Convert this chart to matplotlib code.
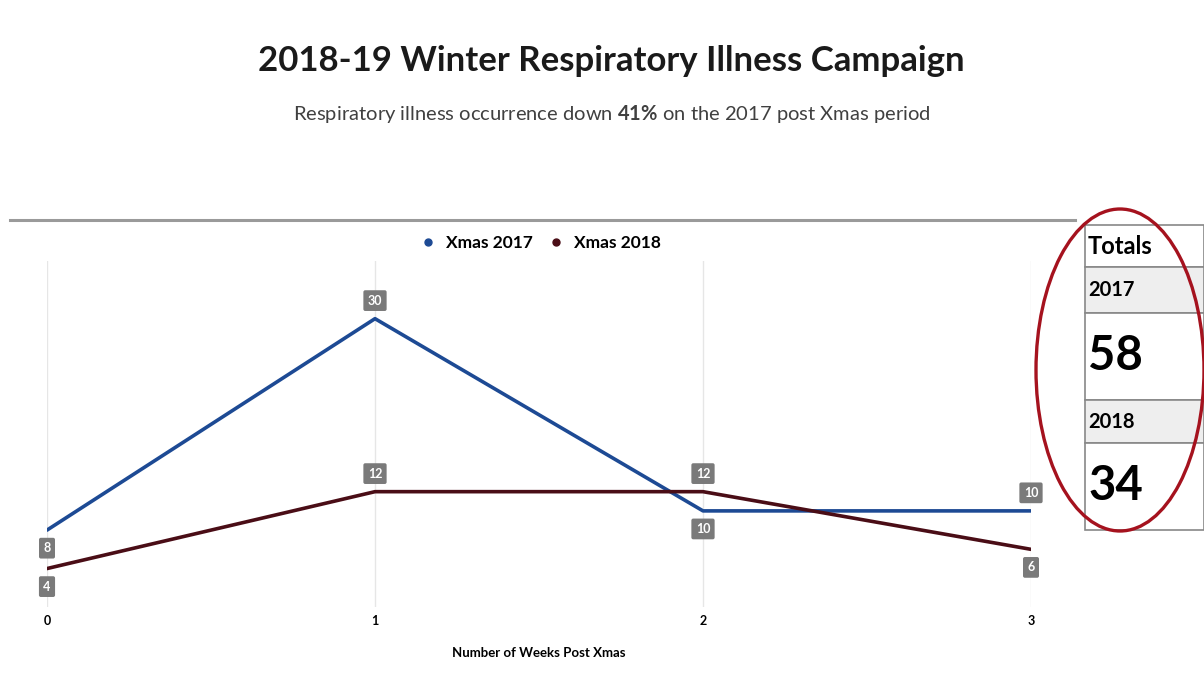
import matplotlib.pyplot as plt
from matplotlib.patches import Ellipse, Rectangle
from matplotlib.lines import Line2D

# data
weeks = [0, 1, 2, 3]
xmas_2017 = [8, 30, 10, 10]
xmas_2018 = [4, 12, 12, 6]
# label side for each point: +1 above, -1 below
pos_2017 = [-1, 1, -1, 1]
pos_2018 = [-1, 1, 1, -1]
totals = [("2017", sum(xmas_2017)), ("2018", sum(xmas_2018))]

plt.rcParams['font.family'] = ['Lato', 'DejaVu Sans']
plt.rcParams['mathtext.fontset'] = 'custom'
plt.rcParams['mathtext.rm'] = 'Lato'
plt.rcParams['mathtext.bf'] = 'Lato:bold'

fig = plt.figure(figsize=(12.04, 6.76), dpi=100)
fig.patch.set_facecolor('white')

# titles
fig.text(0.508, 0.91, "2018-19 Winter Respiratory Illness Campaign",
         ha='center', va='center', fontsize=25, fontweight='bold', color='#1a1a1a')
fig.text(0.508, 0.831, "Respiratory illness occurrence down $\\bf{41\\%}$ on the 2017 post Xmas period",
         ha='center', va='center', fontsize=14.5, color='#404040')

# divider line
fig.add_artist(Line2D([0.008, 0.893], [0.675, 0.675], color='#9a9a9a', lw=2.2))

ax = fig.add_axes([47 / 1204, 1 - 607 / 676, (1031 - 47) / 1204, (607 - 261) / 676])
c17 = '#1d4a94'
c18 = '#4a0d16'
ax.plot(weeks, xmas_2017, color=c17, lw=2.6, solid_capstyle='round', zorder=3)
ax.plot(weeks, xmas_2018, color=c18, lw=2.6, solid_capstyle='round', zorder=3)

box = dict(boxstyle='round,pad=0.35,rounding_size=0.15', fc='#7a7a7a', ec='none')
for series, side in [(xmas_2017, pos_2017), (xmas_2018, pos_2018)]:
    for x, y, s in zip(weeks, series, side):
        ax.annotate(str(y), (x, y), xytext=(0, 13 * s), textcoords='offset points',
                    ha='center', va='center', fontsize=9, fontweight='bold',
                    color='white', bbox=box, zorder=4)

ax.set_xlim(0, 3)
ax.set_ylim(0, 36)
ax.set_xticks(weeks)
ax.set_xticklabels([str(w) for w in weeks], fontweight='bold', fontsize=9)
ax.set_yticks([])
ax.tick_params(axis='x', length=0, pad=6)
ax.grid(axis='x', color='#e6e6e6', lw=1)
for sp in ax.spines.values():
    sp.set_visible(False)
ax.set_xlabel("Number of Weeks Post Xmas", fontweight='bold', fontsize=9.5, labelpad=14)

# legend
handles = [Line2D([], [], marker='o', ls='', color=c17, markersize=5),
           Line2D([], [], marker='o', ls='', color=c18, markersize=5)]
fig.legend(handles, ["Xmas 2017", "Xmas 2018"], loc='center', bbox_to_anchor=(0.445, 0.641),
           ncol=2, frameon=False, handletextpad=0.05, columnspacing=0.3,
           prop={'weight': 'bold', 'size': 12.5})

# totals table on the right
W, H = 1204, 676
rows = [("Totals", 225, 267, 'white', 17),
        (totals[0][0], 267, 313, '#eeeeee', 14.5),
        (str(totals[0][1]), 313, 400, 'white', 34),
        (totals[1][0], 400, 443, '#eeeeee', 14.5),
        (str(totals[1][1]), 443, 530, 'white', 34)]
for label, top, bot, bg, fs in rows:
    fig.add_artist(Rectangle((1085 / W, 1 - bot / H), (W - 1085) / W, (bot - top) / H,
                             transform=fig.transFigure, fc=bg, ec='#888888', lw=1.2))
    fig.text(1088 / W, 1 - (top + bot) / 2 / H, label, ha='left', va='center',
             fontsize=fs, fontweight='bold', color='black')

fig.add_artist(Ellipse((1120 / W, 1 - 370 / H), 168 / W, 322 / H,
                       transform=fig.transFigure, fill=False, ec='#a5121e', lw=2.4))

fig.savefig('out.png', dpi=100)
